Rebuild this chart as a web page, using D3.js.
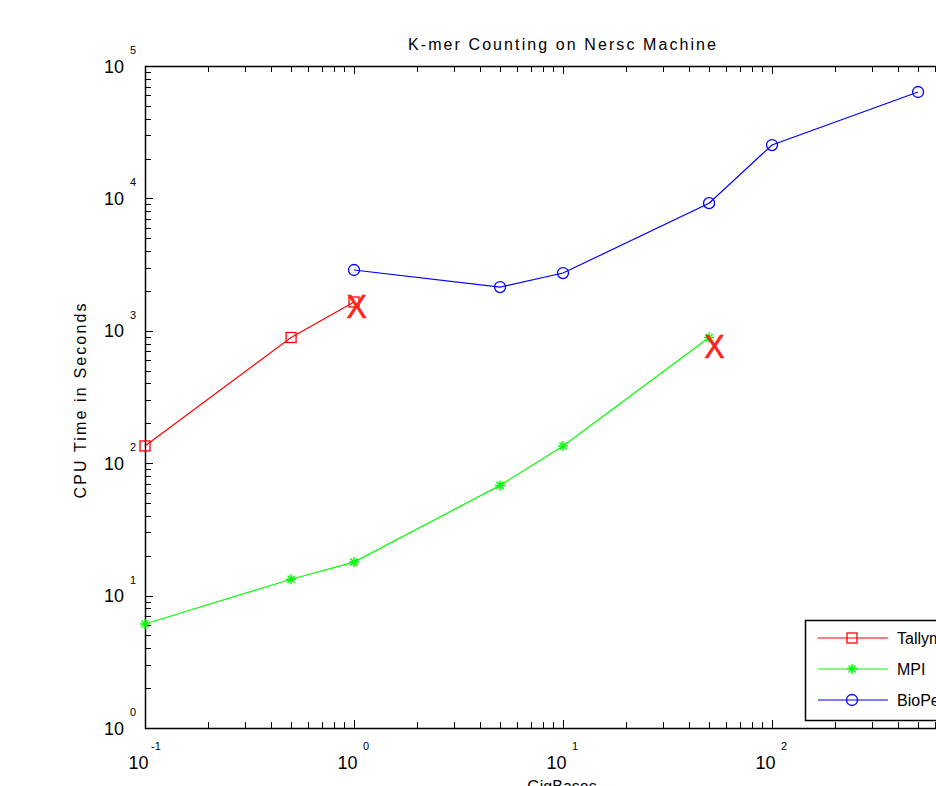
<!doctype html>
<html lang="en">
	<head>
		<meta charset="utf-8">
		<title>K-mer Counting on Nersc Machine</title>
		<script src="https://d3js.org/d3.v7.min.js"></script>
		<style>
			body { margin: 0; background: #fff; }
			text { font-family: 'Liberation Sans', Arial, sans-serif; fill: #000; }
		</style>
	</head>
	<body>
		<div id="chart"></div>
		<script>
			// data
			let tallymerSize = [0.1, 0.5, 1]
			let tallymerTime = [135, 890, 1650]
			let mpiSize = [0.1, 0.5, 1, 5, 10, 50]
			let mpiTime = [6.1, 13.3, 17.9, 68, 135, 890]
			let bioperlSize = [1, 5, 10, 50, 100, 500]
			let bioperlTime = [2880, 2140, 2730, 9200, 25300, 63600]
			// the big red X marks
			let failSize = [1.03, 53]
			let failTime = [1550, 770]
			let seriesNames = ['Tallymer', 'MPI', 'BioPerl']
			let xTickExp = [-1, 0, 1, 2]
			let yTickExp = [0, 1, 2, 3, 4, 5]

			let width = 936
			let height = 786
			let pLeft = 145, pRight = 981, pTop = 66, pBottom = 728

			let svg = d3.select('#chart').append('svg')
				.attr('width', width)
				.attr('height', height)

			let x = d3.scaleLog().domain([0.1, 1000]).range([pLeft, pRight])
			let y = d3.scaleLog().domain([1, 100000]).range([pBottom, pTop])

			// ticks (inward, matlab style)
			let ticks = svg.append('g').attr('stroke', '#000').attr('stroke-width', 1)
			x.ticks().forEach(t => {
				let major = Math.abs(Math.log10(t) - Math.round(Math.log10(t))) < 1e-9
				let len = major ? 8 : 6
				let px = Math.round(x(t)) + 0.5
				ticks.append('line').attr('x1', px).attr('x2', px).attr('y1', pBottom).attr('y2', pBottom - len)
				ticks.append('line').attr('x1', px).attr('x2', px).attr('y1', pTop).attr('y2', pTop + len)
			})
			y.ticks().forEach(t => {
				let major = Math.abs(Math.log10(t) - Math.round(Math.log10(t))) < 1e-9
				let len = major ? 8 : 6
				let py = Math.round(y(t)) + 0.5
				ticks.append('line').attr('x1', pLeft).attr('x2', pLeft + len).attr('y1', py).attr('y2', py)
			})

			// box
			svg.append('path')
				.attr('d', `M${pRight},${pTop + 0.5}H${pLeft + 0.5}V${pBottom + 0.5}H${pRight}`)
				.attr('fill', 'none')
				.attr('stroke', '#000')
				.attr('stroke-width', 1.5)

			// tick labels: "10" with the exponent raised
			xTickExp.forEach(e => {
				let g = svg.append('g').attr('transform', `translate(${x(Math.pow(10, e))},0)`)
				g.append('text').attr('x', -6.5).attr('y', 769).attr('text-anchor', 'middle')
					.style('font-size', '18px').text('10')
				g.append('text').attr('x', e < 0 ? 6 : 9).attr('y', 750).attr('text-anchor', 'start')
					.style('font-size', '11px').text(e)
			})
			yTickExp.forEach(e => {
				let g = svg.append('g').attr('transform', `translate(0,${y(Math.pow(10, e))})`)
				g.append('text').attr('x', 124).attr('y', 6.5).attr('text-anchor', 'end')
					.style('font-size', '18px').text('10')
				g.append('text').attr('x', 130).attr('y', -12).attr('text-anchor', 'start')
					.style('font-size', '11px').text(e)
			})

			// title and labels
			svg.append('text').attr('x', 562).attr('y', 50).attr('text-anchor', 'middle')
				.attr('textLength', 308).attr('lengthAdjust', 'spacing')
				.style('font-size', '16px').text('K-mer Counting on Nersc Machine')
			svg.append('text').attr('transform', `translate(86,${(pTop + pBottom) / 2 + 4}) rotate(-90)`)
				.attr('text-anchor', 'middle')
				.attr('textLength', 195).attr('lengthAdjust', 'spacing')
				.style('font-size', '16px').text('CPU Time in Seconds')
			svg.append('text').attr('x', 562).attr('y', 792).attr('text-anchor', 'middle')
				.style('font-size', '16px').text('GigBases')

			let line = d3.line().x(d => x(d[0])).y(d => y(d[1]))

			function square(g, cx, cy, color) {
				g.append('rect').attr('x', cx - 5).attr('y', cy - 5).attr('width', 10).attr('height', 10)
					.attr('fill', 'none').attr('stroke', color).attr('stroke-width', 1.3)
			}
			function star(g, cx, cy, color) {
				let r = 5
				let d = `M${cx - r},${cy}H${cx + r}M${cx},${cy - r}V${cy + r}` +
					`M${cx - r * 0.7},${cy - r * 0.7}L${cx + r * 0.7},${cy + r * 0.7}` +
					`M${cx - r * 0.7},${cy + r * 0.7}L${cx + r * 0.7},${cy - r * 0.7}`
				g.append('path').attr('d', d).attr('stroke', color).attr('stroke-width', 1.5).attr('fill', 'none')
			}
			function circle(g, cx, cy, color) {
				g.append('circle').attr('cx', cx).attr('cy', cy).attr('r', 5.5)
					.attr('fill', 'none').attr('stroke', color).attr('stroke-width', 1.3)
			}

			let series = [
				{ xs: tallymerSize, ys: tallymerTime, color: '#ff0000', marker: square },
				{ xs: mpiSize, ys: mpiTime, color: '#00ff00', marker: star },
				{ xs: bioperlSize, ys: bioperlTime, color: '#0000ff', marker: circle },
			]

			series.forEach(s => {
				let pts = s.xs.map((v, i) => [v, s.ys[i]])
				svg.append('path').datum(pts).attr('d', line)
					.attr('fill', 'none').attr('stroke', s.color).attr('stroke-width', 1.2)
				let g = svg.append('g')
				pts.forEach(p => s.marker(g, x(p[0]), y(p[1]), s.color))
			})

			// failure marks
			failSize.forEach((v, i) => {
				svg.append('text').attr('x', x(v)).attr('y', y(failTime[i]))
					.attr('text-anchor', 'middle')
					.attr('dy', '0.36em')
					.attr('transform', `translate(${x(v)},0) scale(0.9,1) translate(${-x(v)},0)`)
					.style('font-size', '34px')
					.style('fill', '#ff2418')
					.style('stroke', '#ff2418')
					.style('stroke-width', 0.6)
					.text('X')
			})

			// legend
			let lg = svg.append('g').attr('transform', 'translate(805,620)')
			lg.append('rect').attr('x', 0.5).attr('y', 0.5).attr('width', 200).attr('height', 100)
				.attr('fill', '#fff').attr('stroke', '#000').attr('stroke-width', 1.5)
			series.forEach((s, i) => {
				let ly = 18 + i * 31
				lg.append('line').attr('x1', 13).attr('x2', 83).attr('y1', ly).attr('y2', ly)
					.attr('stroke', s.color).attr('stroke-width', 1.2)
				s.marker(lg, 47, ly, s.color)
				lg.append('text').attr('x', 92).attr('y', ly + 6).style('font-size', '16px').text(seriesNames[i])
			})
		</script>
	</body>
</html>
